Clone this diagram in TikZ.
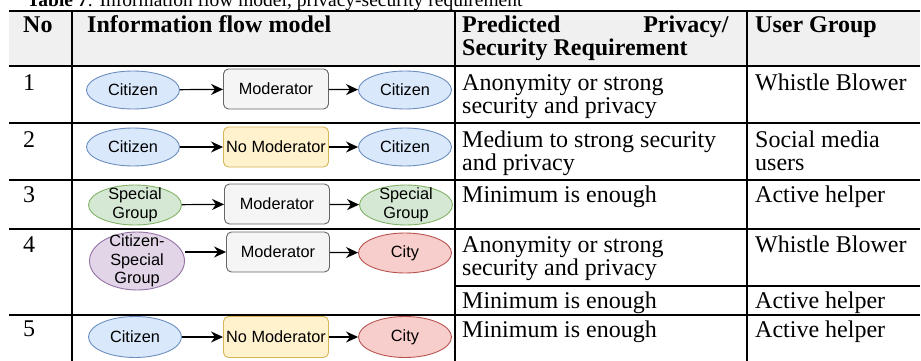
\documentclass[tikz,border=0pt]{standalone}
\usepackage{fontspec}
\setmainfont{Liberation Serif}
\newfontfamily\flowfont{Liberation Sans}
\usetikzlibrary{shapes.geometric,arrows.meta}
\definecolor{headgray}{HTML}{F0F0F0}
\definecolor{bluefill}{HTML}{DAE8FC}\definecolor{blueline}{HTML}{6C8EBF}
\definecolor{yelfill}{HTML}{FFF2CC}\definecolor{yelline}{HTML}{D6B656}
\definecolor{grnfill}{HTML}{D5E8D4}\definecolor{grnline}{HTML}{82B366}
\definecolor{purfill}{HTML}{E1D5E7}\definecolor{purline}{HTML}{9673A6}
\definecolor{redfill}{HTML}{F8CECC}\definecolor{redline}{HTML}{B85450}
\definecolor{grayfill}{HTML}{F5F5F5}\definecolor{grayline}{HTML}{666666}
\begin{document}
\begin{tikzpicture}[x=1pt,y=-1pt]
	\tikzstyle{every node}+=[inner sep=0pt]
	\tikzstyle{cell}=[anchor=base west,font=\fontsize{24}{23}\selectfont]
	\tikzstyle{rule}=[line width=1.6pt]
	\tikzstyle{flowtext}=[font=\flowfont\fontsize{16.3}{18.5}\selectfont,align=center,line width=0.9pt]
	\tikzstyle{oval}=[flowtext,ellipse,minimum width=93pt,minimum height=38pt,inner sep=-6pt]
	\tikzstyle{citizen}=[oval,fill=bluefill,draw=blueline]
	\tikzstyle{special}=[oval,fill=grnfill,draw=grnline,minimum height=40pt]
	\tikzstyle{mixed}=[oval,fill=purfill,draw=purline,minimum width=95pt,minimum height=58pt,inner sep=-10pt]
	\tikzstyle{city}=[oval,fill=redfill,draw=redline,minimum height=40pt]
	\tikzstyle{modbox}=[flowtext,rounded corners=5pt,minimum width=105pt,minimum height=40pt,fill=grayfill,draw=grayline]
	\tikzstyle{nomodbox}=[modbox,fill=yelfill,draw=yelline]
	\tikzstyle{flow}=[line width=1.2pt,-{Stealth[length=12pt,width=11pt]}]
	\useasboundingbox (0,0) rectangle (921,361);
	\clip (0,0) rectangle (921,361);
	% caption
	\node[cell,font=\fontsize{19.5}{23}\selectfont] (cap) at (27,7) {\textbf{Table 7}: Information flow model, privacy-security requirement};
	% table
	\fill [headgray] (9,11) rectangle (920,66);
	\draw [rule] (9,11) -- (920,11);
	\draw [rule] (9,66) -- (920,66);
	\draw [rule] (9,123) -- (920,123);
	\draw [rule] (9,180) -- (920,180);
	\draw [rule] (9,229) -- (920,229);
	\draw [rule] (455,286) -- (920,286);
	\draw [rule] (9,315) -- (920,315);
	\draw [rule] (72,11) -- (72,361);
	\draw [rule] (455,11) -- (455,361);
	\draw [rule] (747,11) -- (747,361);
	% header
	\node[cell] (hno) at (23,33) {\textbf{No}};
	\node[cell] (hflow) at (87,33) {\textbf{Information flow model}};
	\node[cell] (hreq) at (462,33) {\textbf{Predicted}};
	\node[cell,anchor=base east] (hreqb) at (729,33) {\textbf{Privacy/}};
	\node[cell] (hreqc) at (462,56) {\textbf{Security Requirement}};
	\node[cell] (hgrp) at (755,33) {\textbf{User Group}};
	% row 1
	\node[cell] (no1) at (23,90) {1};
	\node[citizen] (src1) at (133,90) {Citizen};
	\node[modbox] (mod1) at (276,89) {Moderator};
	\node[citizen] (dst1) at (405,90) {Citizen};
	\draw[flow] (src1) -- (mod1);
	\draw[flow] (mod1) -- (dst1);
	\node[cell] (req1) at (462,90) {Anonymity or strong};
	\node[cell] (req1b) at (462,113) {security and privacy};
	\node[cell] (grp1) at (755,90) {Whistle Blower};
	% row 2
	\node[cell] (no2) at (23,147) {2};
	\node[citizen] (src2) at (133,147) {Citizen};
	\node[nomodbox] (mod2) at (276,147) {No Moderator};
	\node[citizen] (dst2) at (405,147) {Citizen};
	\draw[flow] (src2) -- (mod2);
	\draw[flow] (mod2) -- (dst2);
	\node[cell] (req2) at (462,147) {Medium to strong security};
	\node[cell] (req2b) at (462,170) {and privacy};
	\node[cell] (grp2) at (755,147) {Social media};
	\node[cell] (grp2b) at (755,170) {users};
	% row 3
	\node[cell] (no3) at (23,202) {3};
	\node[special] (src3) at (135,205) {Special\\Group};
	\node[modbox] (mod3) at (277,204) {Moderator};
	\node[special] (dst3) at (406,205) {Special\\Group};
	\draw[flow] (src3) -- (mod3);
	\draw[flow] (mod3) -- (dst3);
	\node[cell] (req3) at (462,202) {Minimum is enough};
	\node[cell] (grp3) at (755,202) {Active helper};
	% row 4
	\node[cell] (no4) at (23,252) {4};
	\node[mixed] (src4) at (137,261) {Citizen-\\Special\\Group};
	\node[modbox,minimum width=103pt] (mod4) at (278,252) {Moderator};
	\node[city] (dst4) at (405,253) {City};
	\draw[flow] (src4.east |- mod4.west) -- (mod4.west);
	\draw[flow] (mod4) -- (dst4);
	\node[cell] (req4) at (462,252) {Anonymity or strong};
	\node[cell] (req4b) at (462,275) {security and privacy};
	\node[cell] (grp4) at (755,252) {Whistle Blower};
	\node[cell] (req4c) at (462,308) {Minimum is enough};
	\node[cell] (grp4b) at (755,308) {Active helper};
	% row 5
	\node[cell] (no5) at (23,336) {5};
	\node[citizen,minimum height=41pt] (src5) at (135,337) {Citizen};
	\node[nomodbox,minimum height=41pt] (mod5) at (276,337) {No Moderator};
	\node[city,minimum height=41pt] (dst5) at (405,337) {City};
	\draw[flow] (src5) -- (mod5);
	\draw[flow] (mod5) -- (dst5);
	\node[cell] (req5) at (462,337) {Minimum is enough};
	\node[cell] (grp5) at (755,337) {Active helper};
\end{tikzpicture}
\end{document}
